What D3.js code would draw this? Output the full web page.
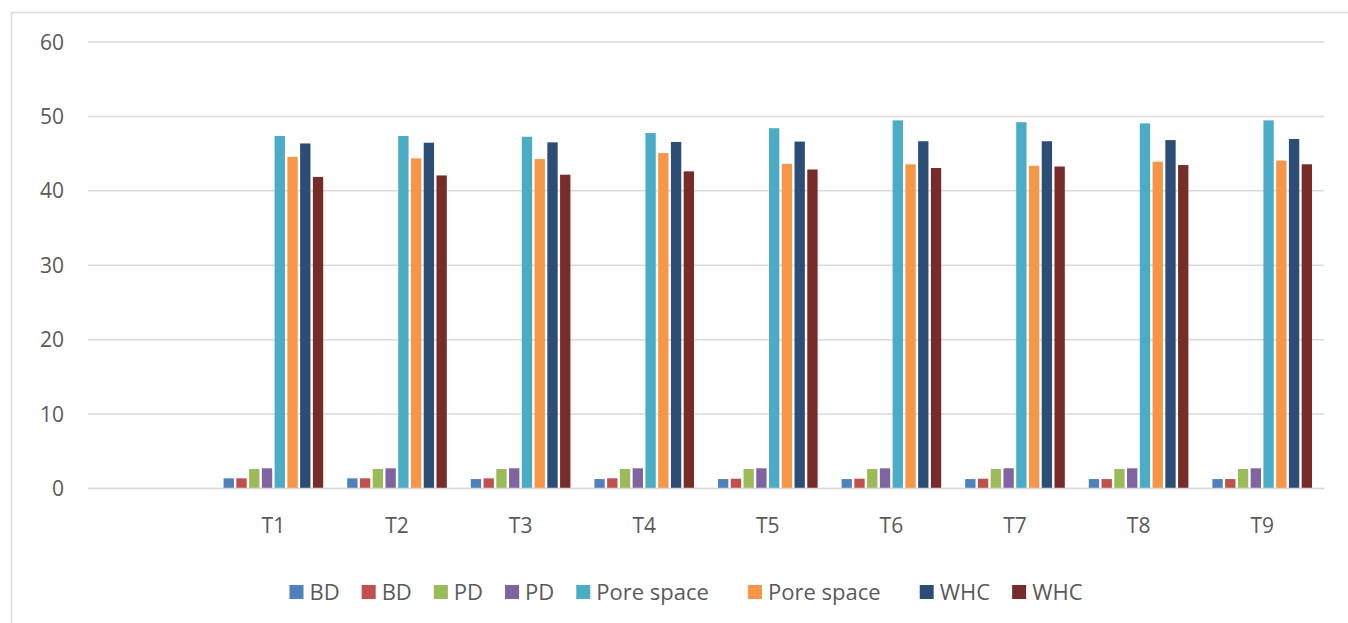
<!DOCTYPE html>
<html>
<head>
<meta charset="utf-8">
<script src="https://cdn.jsdelivr.net/npm/d3@7"></script>
<style>
  html, body { margin: 0; padding: 0; background: #fff; }
  svg { display: block; }
  svg text { font-family: 'Open Sans', 'DejaVu Sans', sans-serif; }
  .legend text { white-space: pre; }
</style>
</head>
<body>
<div class="chart"></div>
<script>
const W = 1348
const H = 623

// categories (first slot is an empty category in the original sheet)
const categories = ['', 'T1', 'T2', 'T3', 'T4', 'T5', 'T6', 'T7', 'T8', 'T9']
const seriesNames = ['BD', 'BD', 'PD', 'PD', 'Pore space   ', 'Pore space   ', 'WHC', 'WHC']
const seriesColors = ['#4f81bd', '#c0504d', '#9bbb59', '#8064a2', '#4bacc6', '#f79646', '#2c4d75', '#772c2a']

const bd1 = [null, 1.3, 1.3, 1.2, 1.2, 1.2, 1.2, 1.2, 1.2, 1.2]
const bd2 = [null, 1.3, 1.3, 1.3, 1.3, 1.25, 1.25, 1.25, 1.2, 1.2]
const pd1 = [null, 2.55, 2.55, 2.55, 2.55, 2.55, 2.55, 2.55, 2.55, 2.55]
const pd2 = [null, 2.65, 2.65, 2.65, 2.65, 2.65, 2.65, 2.65, 2.65, 2.65]
const pore1 = [null, 47.3, 47.3, 47.2, 47.7, 48.35, 49.4, 49.15, 49.0, 49.4]
const pore2 = [null, 44.5, 44.3, 44.2, 45.0, 43.55, 43.5, 43.3, 43.85, 44.0]
const whc1 = [null, 46.3, 46.4, 46.45, 46.5, 46.55, 46.6, 46.6, 46.75, 46.9]
const whc2 = [null, 41.8, 42.0, 42.1, 42.55, 42.8, 43.0, 43.2, 43.4, 43.5]
const seriesValues = [bd1, bd2, pd1, pd2, pore1, pore2, whc1, whc2]

const yTicks = [0, 10, 20, 30, 40, 50, 60]

const TEXT = '#595959'
const GRID = '#d9d9d9'
const FONT = "'Open Sans', 'DejaVu Sans', sans-serif"

const margin = {top: 41.5, right: 24, bottom: 135, left: 88}

const svg = d3.select('.chart').append('svg')
  .attr('width', W)
  .attr('height', H)

// outer chart frame (runs past the right/bottom edge of the picture)
svg.append('rect')
  .attr('x', 11.5)
  .attr('y', 12.5)
  .attr('width', 1360)
  .attr('height', 640)
  .attr('fill', '#fff')
  .attr('stroke', GRID)
  .attr('stroke-width', 1.5)

const x0 = d3.scaleBand()
  .domain(categories)
  .range([margin.left, W - margin.right])

const x1 = d3.scaleBand()
  .domain(d3.range(seriesNames.length))
  .range([0, x0.bandwidth()])
  .paddingInner(0.19)
  .paddingOuter(0.94)

const y = d3.scaleLinear()
  .domain([0, 60])
  .range([488, margin.top])

// gridlines
const axisLeft = d3.axisLeft(y)
  .tickValues(yTicks)
  .tickSize(-(W - margin.right - margin.left))
  .tickPadding(24)

const gy = svg.append('g')
  .attr('class', 'axis axis--y')
  .attr('transform', `translate(${margin.left},0)`)
  .call(axisLeft)
  .attr('font-family', FONT)

gy.select('.domain').remove()
gy.selectAll('line').attr('stroke', GRID).attr('stroke-width', 1.5)
gy.selectAll('text')
  .attr('fill', TEXT)
  .style('font-size', '21px')
  .attr('dy', '0.36em')

// bars
const rows = categories.map((c, i) => ({
  cat: c,
  vals: seriesValues.map((s, k) => ({k: k, v: s[i]})).filter(d => d.v != null)
}))

const groups = svg.append('g').attr('class', 'g-plot')
  .selectAll('g')
  .data(rows)
  .join('g')
  .attr('transform', d => `translate(${x0(d.cat)},0)`)

groups.selectAll('rect')
  .data(d => d.vals)
  .join('rect')
  .attr('x', d => x1(d.k))
  .attr('width', x1.bandwidth())
  .attr('y', d => y(d.v))
  .attr('height', d => y(0) - y(d.v))
  .attr('fill', d => seriesColors[d.k])

// x axis
const axisBottom = d3.axisBottom(x0).tickSize(0).tickPadding(30)
const gx = svg.append('g')
  .attr('class', 'axis axis--x')
  .attr('transform', `translate(0,${y(0)})`)
  .call(axisBottom)
  .attr('font-family', FONT)

gx.select('.domain').attr('stroke', GRID).attr('stroke-width', 1.5)
gx.selectAll('text')
  .attr('fill', TEXT)
  .style('font-size', '21px')

// legend
const legend = svg.append('g').attr('class', 'legend')
const SQ = 14
const GAP = 22
let lx = 0
const items = legend.selectAll('g')
  .data(seriesNames)
  .join('g')

items.append('rect')
  .attr('width', SQ)
  .attr('height', SQ)
  .attr('y', -SQ / 2)
  .attr('fill', (d, i) => seriesColors[i])

items.append('text')
  .attr('x', SQ + 6)
  .attr('dy', '0.36em')
  .attr('fill', TEXT)
  .style('font-size', '22px')
  .text(d => d)

items.each(function () {
  const g = d3.select(this)
  g.attr('transform', `translate(${lx},592)`)
  const tw = g.select('text').node().getComputedTextLength()
  lx += SQ + 6 + tw + GAP
})

const legendWidth = lx - GAP
legend.attr('transform', `translate(${686 - legendWidth / 2},0)`)
</script>
</body>
</html>
